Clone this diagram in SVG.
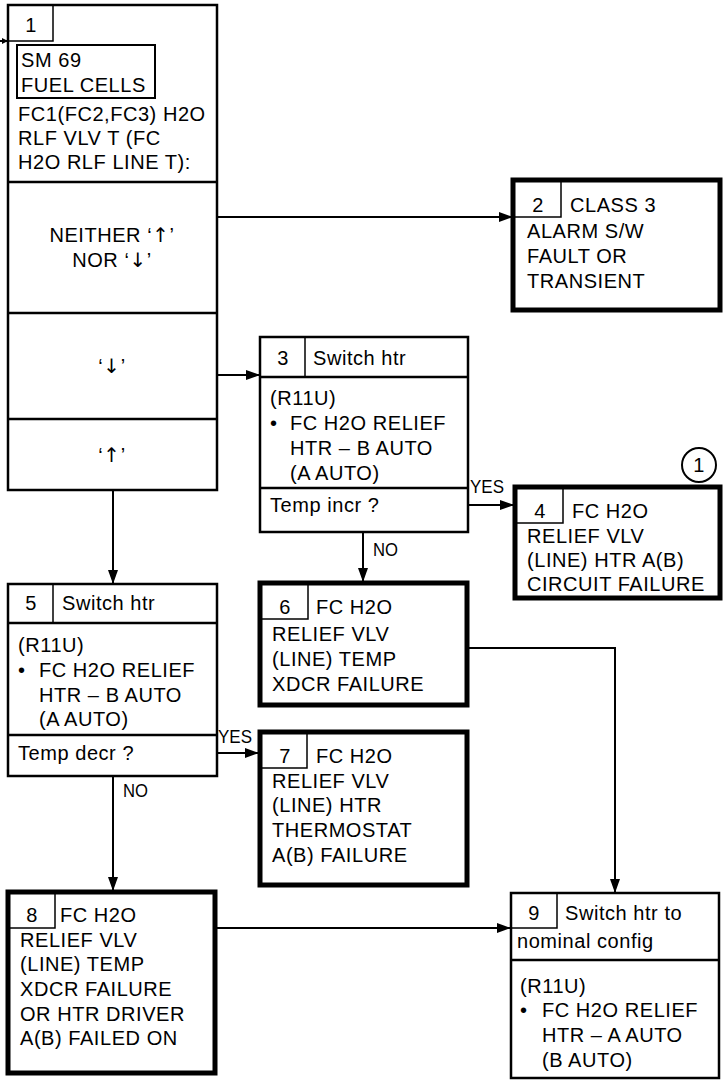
<svg xmlns="http://www.w3.org/2000/svg" width="723" height="1082" viewBox="0 0 723 1082">
<defs>
<style>
.t{font-family:"Liberation Sans",Arial,sans-serif;font-size:20px;letter-spacing:0.55px;fill:#000}
.c{text-anchor:middle}
.ar{font-family:"DejaVu Sans",sans-serif;font-size:20px;font-weight:normal;fill:#000}
.lbl{font-family:"Liberation Sans",Arial,sans-serif;font-size:19px;fill:#000}
.thin{fill:#fff;stroke:#000;stroke-width:2.5}
.thick{fill:#fff;stroke:#000;stroke-width:5}
.cell{fill:none;stroke:#000;stroke-width:1.5}
.ln{fill:none;stroke:#000;stroke-width:2}
</style>
<marker id="ah" markerWidth="14" markerHeight="10" refX="13" refY="5" orient="auto" markerUnits="userSpaceOnUse">
<path d="M0,0 L14,5 L0,10 Z" fill="#000"/>
</marker>
</defs>
<rect width="723" height="1082" fill="#fff"/>

<g id="connectors">
<line class="ln" x1="0" y1="41" x2="8" y2="41"/>
<path d="M2,38 L8,41 L2,44 Z" fill="#000"/>
<line class="ln" x1="217" y1="217" x2="512" y2="217" marker-end="url(#ah)"/>
<line class="ln" x1="217" y1="375" x2="259" y2="375" marker-end="url(#ah)"/>
<line class="ln" x1="113" y1="490" x2="113" y2="583" marker-end="url(#ah)"/>
<line class="ln" x1="468" y1="505" x2="513" y2="505" marker-end="url(#ah)"/>
<text class="lbl" x="470" y="493" textLength="34" lengthAdjust="spacingAndGlyphs">YES</text>
<line class="ln" x1="363" y1="532" x2="363" y2="581" marker-end="url(#ah)"/>
<text class="lbl" x="373" y="556" textLength="25" lengthAdjust="spacingAndGlyphs">NO</text>
<line class="ln" x1="217" y1="753" x2="258" y2="753" marker-end="url(#ah)"/>
<text class="lbl" x="218" y="743" textLength="34" lengthAdjust="spacingAndGlyphs">YES</text>
<line class="ln" x1="113" y1="776" x2="113" y2="890" marker-end="url(#ah)"/>
<text class="lbl" x="123" y="797" textLength="25" lengthAdjust="spacingAndGlyphs">NO</text>
<polyline class="ln" points="467,648 615,648 615,892" marker-end="url(#ah)"/>
<line class="ln" x1="215" y1="928" x2="510" y2="928" marker-end="url(#ah)"/>
</g>

<g id="node1">
<rect class="thin" x="8" y="5" width="209" height="485"/>
<rect class="cell" x="8" y="5" width="45" height="36"/>
<text class="t c" x="31" y="32">1</text>
<rect class="thin" x="17" y="45" width="138" height="53" style="stroke-width:2"/>
<text class="t" x="21" y="67">SM 69</text>
<text class="t" x="21" y="92">FUEL CELLS</text>
<text class="t" x="18" y="121">FC1(FC2,FC3) H2O</text>
<text class="t" x="18" y="145">RLF VLV T (FC</text>
<text class="t" x="18" y="169">H2O RLF LINE T):</text>
<line class="ln" x1="8" y1="182" x2="217" y2="182" style="stroke-width:2.5"/>
<text class="t c" x="112" y="242">NEITHER ‘<tspan class="ar">↑</tspan>’</text>
<text class="t c" x="112" y="267">NOR ‘<tspan class="ar">↓</tspan>’</text>
<line class="ln" x1="8" y1="313" x2="217" y2="313" style="stroke-width:2.5"/>
<text class="t c" x="112" y="373">‘<tspan class="ar">↓</tspan>’</text>
<line class="ln" x1="8" y1="419" x2="217" y2="419" style="stroke-width:2.5"/>
<text class="t c" x="112" y="462">‘<tspan class="ar">↑</tspan>’</text>
</g>

<g id="node2">
<rect class="thick" x="513" y="180" width="207" height="130"/>
<rect class="cell" x="513" y="180" width="48" height="37"/>
<text class="t c" x="538" y="212">2</text>
<text class="t" x="570" y="212">CLASS 3</text>
<text class="t" x="527" y="238">ALARM S/W</text>
<text class="t" x="527" y="263">FAULT OR</text>
<text class="t" x="527" y="288">TRANSIENT</text>
</g>

<g id="node3">
<rect class="thin" x="260" y="337" width="208" height="195"/>
<line class="cell" x1="305" y1="337" x2="305" y2="377"/>
<line class="ln" x1="260" y1="377" x2="468" y2="377" style="stroke-width:2.5"/>
<text class="t c" x="283" y="365">3</text>
<text class="t" x="313" y="365">Switch htr</text>
<text class="t" x="270" y="405">(R11U)</text>
<text class="t" x="270" y="430">•</text>
<text class="t" x="290" y="430">FC H2O RELIEF</text>
<text class="t" x="290" y="455">HTR – B AUTO</text>
<text class="t" x="290" y="480">(A AUTO)</text>
<line class="ln" x1="260" y1="488" x2="468" y2="488" style="stroke-width:2.5"/>
<text class="t" x="270" y="512">Temp incr ?</text>
</g>

<g id="node4">
<rect class="thick" x="515" y="487" width="205" height="111"/>
<rect class="cell" x="515" y="487" width="48" height="36"/>
<text class="t c" x="540" y="518">4</text>
<text class="t" x="572" y="518">FC H2O</text>
<text class="t" x="527" y="543">RELIEF VLV</text>
<text class="t" x="527" y="567">(LINE) HTR A(B)</text>
<text class="t" x="527" y="591">CIRCUIT FAILURE</text>
<circle cx="699" cy="465" r="17" fill="#fff" stroke="#000" stroke-width="2"/>
<text class="t c" x="699" y="472">1</text>
</g>

<g id="node5">
<rect class="thin" x="8" y="584" width="209" height="192"/>
<line class="cell" x1="53" y1="584" x2="53" y2="623"/>
<line class="ln" x1="8" y1="623" x2="217" y2="623" style="stroke-width:2.5"/>
<text class="t c" x="31" y="610">5</text>
<text class="t" x="62" y="610">Switch htr</text>
<text class="t" x="18" y="652">(R11U)</text>
<text class="t" x="18" y="677">•</text>
<text class="t" x="39" y="677">FC H2O RELIEF</text>
<text class="t" x="39" y="702">HTR – B AUTO</text>
<text class="t" x="39" y="726">(A AUTO)</text>
<line class="ln" x1="8" y1="735" x2="217" y2="735" style="stroke-width:2.5"/>
<text class="t" x="18" y="760">Temp decr ?</text>
</g>

<g id="node6">
<rect class="thick" x="260" y="583" width="207" height="122"/>
<rect class="cell" x="260" y="583" width="48" height="36"/>
<text class="t c" x="285" y="614">6</text>
<text class="t" x="316" y="614">FC H2O</text>
<text class="t" x="272" y="641">RELIEF VLV</text>
<text class="t" x="272" y="666">(LINE) TEMP</text>
<text class="t" x="272" y="691">XDCR FAILURE</text>
</g>

<g id="node7">
<rect class="thick" x="260" y="732" width="207" height="153"/>
<rect class="cell" x="260" y="732" width="47" height="36"/>
<text class="t c" x="285" y="763">7</text>
<text class="t" x="316" y="763">FC H2O</text>
<text class="t" x="272" y="788">RELIEF VLV</text>
<text class="t" x="272" y="812">(LINE) HTR</text>
<text class="t" x="272" y="837">THERMOSTAT</text>
<text class="t" x="272" y="862">A(B) FAILURE</text>
</g>

<g id="node8">
<rect class="thick" x="8" y="892" width="207" height="181"/>
<rect class="cell" x="8" y="892" width="47" height="36"/>
<text class="t c" x="32" y="922">8</text>
<text class="t" x="60" y="922">FC H2O</text>
<text class="t" x="20" y="947">RELIEF VLV</text>
<text class="t" x="20" y="971">(LINE) TEMP</text>
<text class="t" x="20" y="996">XDCR FAILURE</text>
<text class="t" x="20" y="1021">OR HTR DRIVER</text>
<text class="t" x="20" y="1045">A(B) FAILED ON</text>
</g>

<g id="node9">
<rect class="thin" x="511" y="893" width="208" height="185"/>
<rect class="cell" x="511" y="893" width="46" height="35"/>
<text class="t c" x="534" y="920">9</text>
<text class="t" x="565" y="920">Switch htr to</text>
<text class="t" x="517" y="948">nominal config</text>
<line class="ln" x1="511" y1="960" x2="719" y2="960" style="stroke-width:2.5"/>
<text class="t" x="520" y="993">(R11U)</text>
<text class="t" x="520" y="1017">•</text>
<text class="t" x="542" y="1017">FC H2O RELIEF</text>
<text class="t" x="542" y="1042">HTR – A AUTO</text>
<text class="t" x="542" y="1067">(B AUTO)</text>
</g>
</svg>
